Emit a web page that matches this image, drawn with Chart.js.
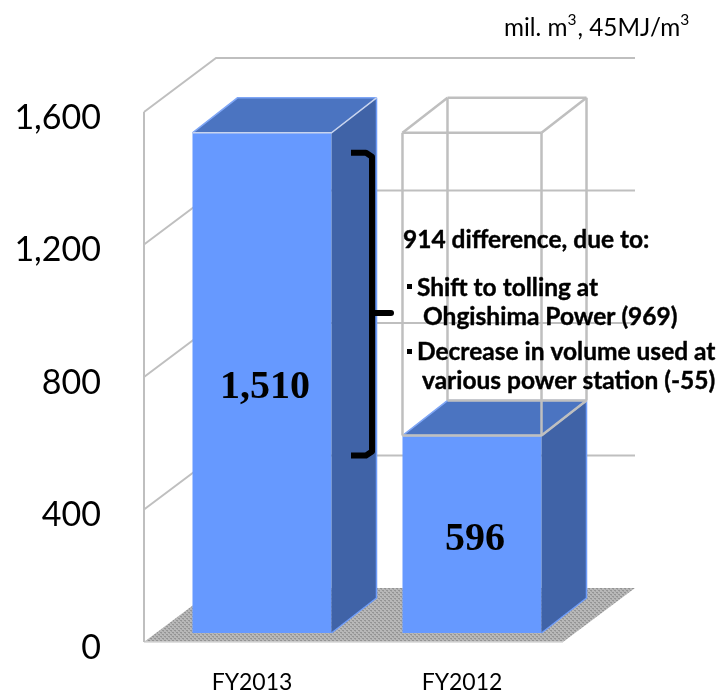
<!DOCTYPE html>
<html>
<head>
<meta charset="utf-8">
<style>html,body{margin:0;padding:0;background:#fff}#wrap{width:724px;height:693px}</style>
<script src="https://cdn.jsdelivr.net/npm/chart.js@4"></script>
</head>
<body>
<div id="wrap"><canvas id="c" width="724" height="693"></canvas></div>
<script>
const categories = ["FY2013", "FY2012"];
const volumes = [1510, 596];
const outlineValues = [null, 1510];
const valueLabels = ["1,510", "596"];
const unitParts = ["mil. m", "3", ", 45MJ/m", "3"];
const noteLines = [
  "914 difference, due to:",
  "Shift to tolling at",
  "Ohgishima Power (969)",
  "Decrease in volume used at",
  "various power station (-55)"
];

const GRID = "#BFBFBF";
const BAR_D = {x: 45, y: -35};
const ROOM_D = {x: 72, y: -54};
const FRONT_GAP = 9;
const WALL_X = 144;
const FLOOR_RIGHT = 563;

function floorPattern(ctx){
  const p = document.createElement("canvas");
  p.width = 4; p.height = 4;
  const g = p.getContext("2d");
  g.fillStyle = "#B8B8B8"; g.fillRect(0,0,4,4);
  g.fillStyle = "#949494"; g.fillRect(0,0,2,1); g.fillRect(2,2,2,1);
  g.fillStyle = "#A4A4A4"; g.fillRect(1,1,1,1); g.fillRect(3,3,1,1);
  return ctx.createPattern(p, "repeat");
}
function poly(ctx, pts){
  ctx.beginPath();
  pts.forEach((p,i)=> i ? ctx.lineTo(p[0],p[1]) : ctx.moveTo(p[0],p[1]));
}
function line(ctx, pts, color, w){
  poly(ctx, pts);
  ctx.strokeStyle = color; ctx.lineWidth = w; ctx.stroke();
}

const room3d = {
  id: "room3d",
  beforeDatasetsDraw(chart){
    const ctx = chart.ctx, y = chart.scales.y;
    ctx.save();
    ctx.lineCap = "butt"; ctx.lineJoin = "miter";
    const y0 = y.getPixelForValue(0) + FRONT_GAP;
    poly(ctx, [[WALL_X,y0],[WALL_X+ROOM_D.x,y0+ROOM_D.y],[FLOOR_RIGHT+ROOM_D.x,y0+ROOM_D.y],[FLOOR_RIGHT,y0]]);
    ctx.closePath();
    ctx.fillStyle = floorPattern(ctx); ctx.fill();
    line(ctx, [[WALL_X,y0],[FLOOR_RIGHT,y0]], "#D4D4D4", 1.5);
    y.ticks.forEach(t => {
      if (t.value === 0) return;
      const py = y.getPixelForValue(t.value) + FRONT_GAP;
      line(ctx, [[WALL_X,py],[WALL_X+ROOM_D.x,py+ROOM_D.y],[FLOOR_RIGHT+ROOM_D.x,py+ROOM_D.y]], GRID, 2);
    });
    line(ctx, [[WALL_X,y.getPixelForValue(1600)+FRONT_GAP],[WALL_X,y0]], GRID, 2);
    ctx.restore();
  },
  afterDatasetsDraw(chart){
    const ctx = chart.ctx, yS = chart.scales.y;
    const bars = chart.getDatasetMeta(0).data;
    const ghost = chart.getDatasetMeta(1).data;
    ctx.save();
    ctx.lineJoin = "miter";
    bars.forEach(b => {
      const l = b.x - b.width/2, r = b.x + b.width/2, t = b.y, bt = b.base;
      poly(ctx, [[r,t],[r+BAR_D.x,t+BAR_D.y],[r+BAR_D.x,bt+BAR_D.y],[r,bt]]);
      ctx.closePath(); ctx.fillStyle = "#4063A7"; ctx.fill();
      line(ctx, [[r+BAR_D.x,t+BAR_D.y],[r+BAR_D.x,bt+BAR_D.y],[r,bt]], "#6E9CF8", 1.5);
      poly(ctx, [[l,t],[l+BAR_D.x,t+BAR_D.y],[r+BAR_D.x,t+BAR_D.y],[r,t]]);
      ctx.closePath(); ctx.fillStyle = "#4B74C1"; ctx.fill();
      line(ctx, [[l,t],[l+BAR_D.x,t+BAR_D.y],[r+BAR_D.x,t+BAR_D.y]], "#7FA6F5", 1.5);
      line(ctx, [[l,t],[r,t],[r+BAR_D.x,t+BAR_D.y]], "#C8D4EE", 1.5);
    });
    ghost.forEach((g,i) => {
      if (outlineValues[i] == null) return;
      const l = g.x - g.width/2, r = g.x + g.width/2, t = g.y, low = bars[i].y;
      const dx = BAR_D.x, dy = BAR_D.y;
      const segs = [
        [[l,t],[r,t]], [[l+dx,t+dy],[r+dx,t+dy]], [[l,t],[l+dx,t+dy]], [[r,t],[r+dx,t+dy]],
        [[l,t],[l,low]], [[r,t],[r,low]], [[l+dx,t+dy],[l+dx,low+dy]], [[r+dx,t+dy],[r+dx,low+dy]],
        [[l,low],[r,low]], [[r,low],[r+dx,low+dy]], [[l+dx,low+dy],[r+dx,low+dy]]
      ];
      segs.forEach(s => line(ctx, s, GRID, 2.5));
    });

    ctx.fillStyle = "#000"; ctx.textBaseline = "middle"; ctx.textAlign = "center";
    ctx.font = "bold 40px 'Liberation Serif'";
    bars.forEach((b,i) => ctx.fillText(valueLabels[i], b.x + 3, (b.y + b.base)/2 + 5));

    const top = yS.getPixelForValue(volumes[0]) + 20, low = yS.getPixelForValue(volumes[1]) + 20;
    const mid = 313;
    ctx.lineCap = "butt"; ctx.lineJoin = "round";
    poly(ctx, [[351,top],[366,top],[372,top+4],[372,low-4],[366,low],[351,low]]);
    ctx.strokeStyle = "#000"; ctx.lineWidth = 6; ctx.stroke();
    ctx.lineCap = "round";
    poly(ctx, [[372,mid],[391,mid]]); ctx.stroke();

    ctx.textAlign = "left"; ctx.textBaseline = "middle";
    ctx.font = "bold 24.5px Lato";
    ctx.lineWidth = 0.4; ctx.lineJoin = "round";
    const pos = [[403,240],[417,288],[423,317],[417,352],[422,381]];
    noteLines.forEach((s,i) => {
      ctx.fillText(s, pos[i][0], pos[i][1]);
      ctx.strokeText(s, pos[i][0], pos[i][1]);
    });
    ctx.fillRect(407,284,5,5);
    ctx.fillRect(407,349,5,5);

    let ux = 504;
    unitParts.forEach((s,i) => {
      const sup = i % 2 === 1;
      ctx.font = sup ? "15.5px Lato" : "24.3px Lato";
      ctx.fillText(s, ux, sup ? 20 : 28);
      ux += ctx.measureText(s).width + (sup ? 1 : 0);
    });
    ctx.restore();
  }
};

new Chart(document.getElementById("c"), {
  type: "bar",
  data: {
    labels: categories,
    datasets: [
      {data: volumes, backgroundColor: "#6699FF", borderWidth: 0, grouped: false, barPercentage: 1, categoryPercentage: 0.662, order: 1},
      {data: outlineValues, backgroundColor: "rgba(0,0,0,0)", borderWidth: 0, grouped: false, barPercentage: 1, categoryPercentage: 0.662, order: 2}
    ]
  },
  options: {
    responsive: false,
    animation: false,
    events: [],
    layout: {autoPadding: false, padding: {top: 103, right: 147, left: 0, bottom: 0}},
    plugins: {legend: {display: false}, title: {display: false}, tooltip: {enabled: false}},
    scales: {
      x: {
        grid: {display: false, drawTicks: false},
        border: {display: false},
        afterFit(s){ s.height = 60; s.paddingLeft = 0; s.paddingRight = 0; },
        ticks: {padding: 36, labelOffset: -10, color: "#000", maxRotation: 0, font: {family: "Lato", size: 23}}
      },
      y: {
        min: 0, max: 1600,
        grid: {display: false, drawTicks: false},
        border: {display: false},
        afterFit(s){ s.width = 157; s.paddingTop = 0; s.paddingBottom = 0; },
        ticks: {
          stepSize: 400, padding: 56, labelOffset: 15, color: "#000",
          font: {family: "Lato", size: 34},
          callback: v => v.toLocaleString("en-US")
        }
      }
    }
  },
  plugins: [room3d]
});
</script>
</body>
</html>
